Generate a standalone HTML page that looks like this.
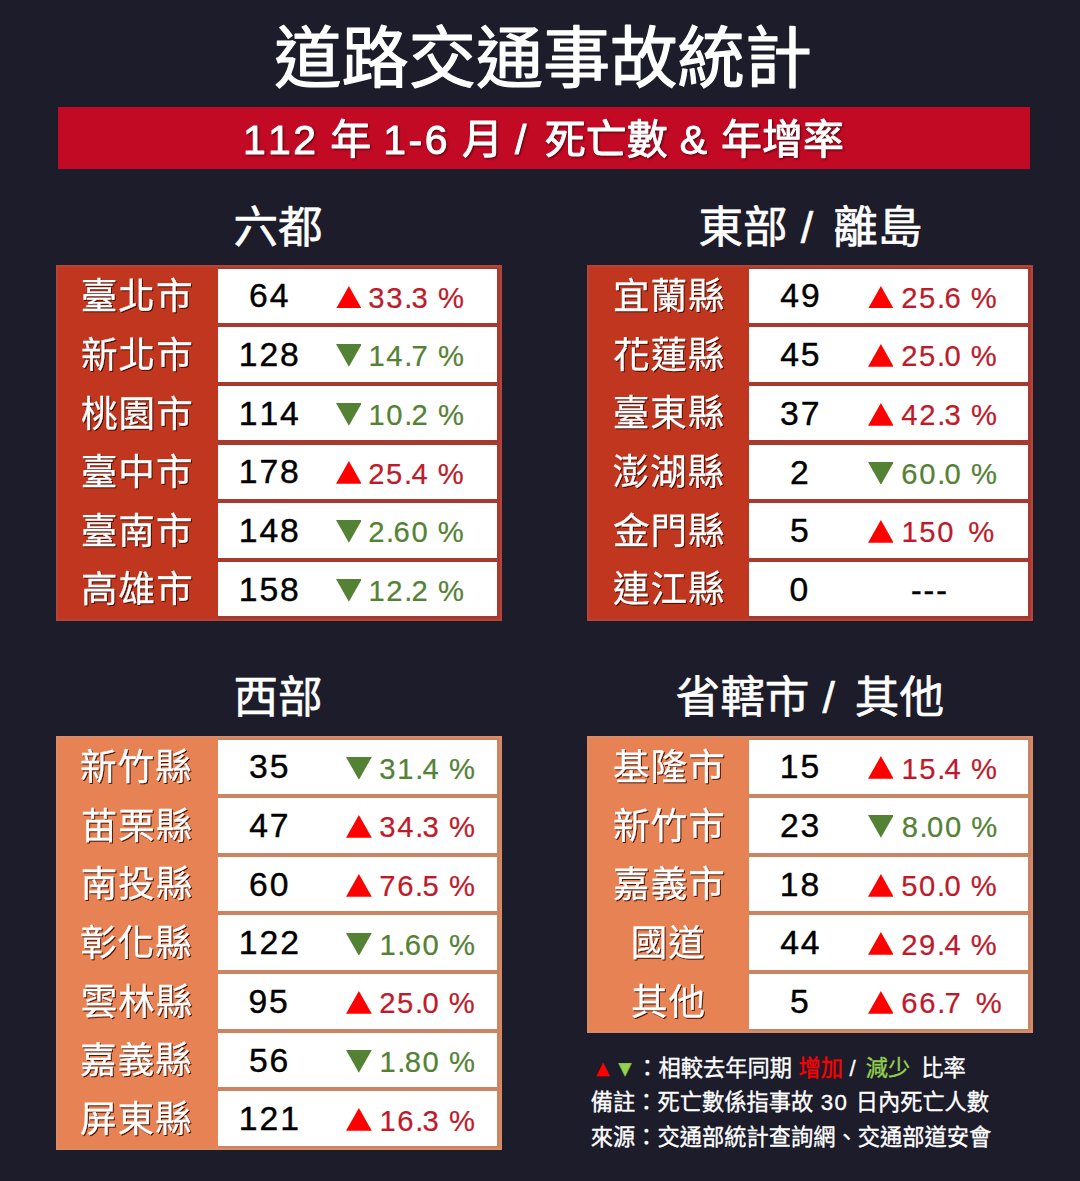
<!DOCTYPE html>
<html lang="zh-Hant"><head><meta charset="utf-8"><title>道路交通事故統計</title>
<style>
html,body{margin:0;padding:0;background:#1c1c2b;}
body{width:1080px;height:1181px;position:relative;overflow:hidden;font-family:"Liberation Sans","Noto Sans CJK TC",sans-serif;}
.page{position:absolute;left:0;top:0;width:1080px;height:1181px;background:#1c1c2b;overflow:hidden}
.t,.bar,.tb,.cell,.tri{position:absolute}
.tx{display:block;overflow:visible}
.tx text{font-family:"Liberation Sans","Noto Sans CJK TC",sans-serif;stroke-linejoin:round}
.cell{background:#fff}
</style></head><body>
<div class="page">
<div class="t " style="left:274.30px;top:22.00px;"><svg class="tx" width="537.94" height="68.21" viewBox="0 0 537.94 68.21"><text x="0.30 67.50 134.70 201.90 269.10 336.30 403.50 470.70" y="59.57" font-size="67.2" fill="#ffffff" stroke="#ffffff" stroke-width="1.2">道路交通事故統計</text></svg></div>
<div class="bar" style="left:57.6px;top:107px;width:972.4px;height:62.4px;background:#c30a25"></div>
<div class="t " style="left:243.60px;top:115.63px;"><svg class="tx" width="601.68" height="44.74" viewBox="0 0 601.68 44.74" style="filter:drop-shadow(1.5px 1.5px 1px rgba(40,0,0,.75))"><text x="-1.08 24.05 49.18 74 86.33 127 139.34 164.47 180.79 206 217.94 259 270.95 289 300.72 341.72 382.72 424 435.73 465 477.06 518.06 559.06" y="37.99" font-size="41" fill="#ffffff" stroke="#ffffff" stroke-width="0.98">112 年 1-6 月 / 死亡數 &amp; 年增率</text></svg></div>
<div class="t " style="left:231.85px;top:201.69px;"><svg class="tx" width="91.89" height="47.83" viewBox="0 0 91.89 47.83"><text x="1.46 46.06" y="40.84" font-size="44.6" fill="#ffffff" stroke="#ffffff" stroke-width="0.62">六都</text></svg></div>
<div class="t " style="left:696.84px;top:201.62px;"><svg class="tx" width="226.32" height="47.96" viewBox="0 0 226.32 47.96"><text x="1.50 46.10 91 103.77 124 136.15 180.75" y="40.97" font-size="44.6" fill="#ffffff" stroke="#ffffff" stroke-width="0.62">東部 / 離島</text></svg></div>
<div class="t " style="left:231.70px;top:672.18px;"><svg class="tx" width="92.20" height="47.65" viewBox="0 0 92.20 47.65"><text x="1.46 46.06" y="40.75" font-size="44.6" fill="#ffffff" stroke="#ffffff" stroke-width="0.62">西部</text></svg></div>
<div class="t " style="left:674.21px;top:672.02px;"><svg class="tx" width="271.59" height="47.96" viewBox="0 0 271.59 47.96"><text x="1.59 46.19 90.79 136 148.46 169 180.84 225.44" y="40.88" font-size="44.6" fill="#ffffff" stroke="#ffffff" stroke-width="0.62">省轄市 / 其他</text></svg></div>
<div class="tb" style="left:56.2px;top:264.8px;width:445.9px;height:355.86px;background:#c0361f"></div>
<div class="tb" style="left:217.70px;top:264.8px;width:284.40px;height:355.86px;background:#a63a30"></div>
<div class="tb" style="left:56.2px;top:264.8px;width:445.9px;height:355.86px;box-shadow:inset 0 0 0 2px #b3443a"></div>
<div class="cell" style="left:217.70px;top:268.60px;width:279.6px;height:54.4px"></div>
<div class="t " style="left:78.64px;top:275.14px;"><svg class="tx" width="115.52" height="40.72" viewBox="0 0 115.52 40.72" style="filter:drop-shadow(1.6px 1.6px 0.6px rgba(55,10,0,.9))"><text x="1.77 39.37 76.97" y="34.34" font-size="36.6" fill="#ffffff" stroke="#ffffff" stroke-width="0.29">臺北市</text></svg></div>
<div class="t " style="left:246.66px;top:279.35px;"><svg class="tx" width="46.38" height="31.69" viewBox="0 0 46.38 31.69"><text x="2.08 22.74" y="28.30" font-size="33.7" fill="#000000" stroke="#000000" stroke-width="0.4">64</text></svg></div>
<svg class="tri" style="left:335.50px;top:285.50px" width="25.8" height="22.8" viewBox="0 0 25.8 22.8"><polygon points="12.90,0 25.80,22.8 0,22.8" fill="#ff0000"/></svg>
<div class="t " style="left:366.26px;top:282.72px;"><svg class="tx" width="98.02" height="28.97" viewBox="0 0 98.02 28.97"><text x="2.34 20.24 38.13 45.55 62 72.01" y="25.26" font-size="29.2" fill="#c01a2a" stroke="#c01a2a" stroke-width="0.23">33.3 %</text></svg></div>
<div class="cell" style="left:217.70px;top:327.26px;width:279.6px;height:54.4px"></div>
<div class="t " style="left:78.51px;top:333.82px;"><svg class="tx" width="115.77" height="40.68" viewBox="0 0 115.77 40.68" style="filter:drop-shadow(1.6px 1.6px 0.6px rgba(55,10,0,.9))"><text x="2.02 39.62 77.22" y="34.23" font-size="36.6" fill="#ffffff" stroke="#ffffff" stroke-width="0.29">新北市</text></svg></div>
<div class="t " style="left:238.59px;top:338.01px;"><svg class="tx" width="64.28" height="31.69" viewBox="0 0 64.28 31.69"><text x="-0.18 20.48 41.14" y="28.30" font-size="33.7" fill="#000000" stroke="#000000" stroke-width="0.4">128</text></svg></div>
<svg class="tri" style="left:335.50px;top:344.36px" width="25.8" height="22.8" viewBox="0 0 25.8 22.8"><polygon points="0,0 25.8,0 12.90,22.8" fill="#548235"/></svg>
<div class="t " style="left:368.22px;top:341.38px;"><svg class="tx" width="96.07" height="28.97" viewBox="0 0 96.07 28.97"><text x="0.38 18.28 36.18 43.60 60 70.05" y="25.26" font-size="29.2" fill="#548235" stroke="#548235" stroke-width="0.23">14.7 %</text></svg></div>
<div class="cell" style="left:217.70px;top:385.92px;width:279.6px;height:54.4px"></div>
<div class="t " style="left:78.51px;top:392.50px;"><svg class="tx" width="115.77" height="40.65" viewBox="0 0 115.77 40.65" style="filter:drop-shadow(1.6px 1.6px 0.6px rgba(55,10,0,.9))"><text x="2.02 39.62 77.22" y="34.19" font-size="36.6" fill="#ffffff" stroke="#ffffff" stroke-width="0.29">桃園市</text></svg></div>
<div class="t " style="left:238.59px;top:396.83px;"><svg class="tx" width="64.78" height="31.39" viewBox="0 0 64.78 31.39"><text x="-0.18 20.48 41.14" y="28.16" font-size="33.7" fill="#000000" stroke="#000000" stroke-width="0.4">114</text></svg></div>
<svg class="tri" style="left:335.50px;top:403.02px" width="25.8" height="22.8" viewBox="0 0 25.8 22.8"><polygon points="0,0 25.8,0 12.90,22.8" fill="#548235"/></svg>
<div class="t " style="left:368.22px;top:400.04px;"><svg class="tx" width="96.07" height="28.97" viewBox="0 0 96.07 28.97"><text x="0.38 18.28 36.18 43.60 60 70.05" y="25.26" font-size="29.2" fill="#548235" stroke="#548235" stroke-width="0.23">10.2 %</text></svg></div>
<div class="cell" style="left:217.70px;top:444.58px;width:279.6px;height:54.4px"></div>
<div class="t " style="left:78.64px;top:451.08px;"><svg class="tx" width="115.52" height="40.79" viewBox="0 0 115.52 40.79" style="filter:drop-shadow(1.6px 1.6px 0.6px rgba(55,10,0,.9))"><text x="1.77 39.37 76.97" y="34.34" font-size="36.6" fill="#ffffff" stroke="#ffffff" stroke-width="0.29">臺中市</text></svg></div>
<div class="t " style="left:238.59px;top:455.33px;"><svg class="tx" width="64.28" height="31.69" viewBox="0 0 64.28 31.69"><text x="-0.18 20.48 41.14" y="28.30" font-size="33.7" fill="#000000" stroke="#000000" stroke-width="0.4">178</text></svg></div>
<svg class="tri" style="left:335.50px;top:461.48px" width="25.8" height="22.8" viewBox="0 0 25.8 22.8"><polygon points="12.90,0 25.80,22.8 0,22.8" fill="#ff0000"/></svg>
<div class="t " style="left:366.44px;top:458.70px;"><svg class="tx" width="97.85" height="28.97" viewBox="0 0 97.85 28.97"><text x="2.16 20.06 37.96 45.38 62 71.83" y="25.26" font-size="29.2" fill="#c01a2a" stroke="#c01a2a" stroke-width="0.23">25.4 %</text></svg></div>
<div class="cell" style="left:217.70px;top:503.24px;width:279.6px;height:54.4px"></div>
<div class="t " style="left:78.64px;top:509.78px;"><svg class="tx" width="115.52" height="40.72" viewBox="0 0 115.52 40.72" style="filter:drop-shadow(1.6px 1.6px 0.6px rgba(55,10,0,.9))"><text x="1.77 39.37 76.97" y="34.34" font-size="36.6" fill="#ffffff" stroke="#ffffff" stroke-width="0.29">臺南市</text></svg></div>
<div class="t " style="left:238.59px;top:513.99px;"><svg class="tx" width="64.28" height="31.69" viewBox="0 0 64.28 31.69"><text x="-0.18 20.48 41.14" y="28.30" font-size="33.7" fill="#000000" stroke="#000000" stroke-width="0.4">148</text></svg></div>
<svg class="tri" style="left:335.50px;top:520.34px" width="25.8" height="22.8" viewBox="0 0 25.8 22.8"><polygon points="0,0 25.8,0 12.90,22.8" fill="#548235"/></svg>
<div class="t " style="left:366.44px;top:517.36px;"><svg class="tx" width="97.85" height="28.97" viewBox="0 0 97.85 28.97"><text x="2.16 20.06 27.48 45.38 62 71.83" y="25.26" font-size="29.2" fill="#548235" stroke="#548235" stroke-width="0.23">2.60 %</text></svg></div>
<div class="cell" style="left:217.70px;top:561.90px;width:279.6px;height:54.4px"></div>
<div class="t " style="left:78.51px;top:568.46px;"><svg class="tx" width="115.77" height="40.68" viewBox="0 0 115.77 40.68" style="filter:drop-shadow(1.6px 1.6px 0.6px rgba(55,10,0,.9))"><text x="2.02 39.62 77.22" y="34.20" font-size="36.6" fill="#ffffff" stroke="#ffffff" stroke-width="0.29">高雄市</text></svg></div>
<div class="t " style="left:238.59px;top:572.65px;"><svg class="tx" width="64.28" height="31.69" viewBox="0 0 64.28 31.69"><text x="-0.18 20.48 41.14" y="28.30" font-size="33.7" fill="#000000" stroke="#000000" stroke-width="0.4">158</text></svg></div>
<svg class="tri" style="left:335.50px;top:579.00px" width="25.8" height="22.8" viewBox="0 0 25.8 22.8"><polygon points="0,0 25.8,0 12.90,22.8" fill="#548235"/></svg>
<div class="t " style="left:368.22px;top:576.02px;"><svg class="tx" width="96.07" height="28.97" viewBox="0 0 96.07 28.97"><text x="0.38 18.28 36.18 43.60 60 70.05" y="25.26" font-size="29.2" fill="#548235" stroke="#548235" stroke-width="0.23">12.2 %</text></svg></div>
<div class="tb" style="left:587.3px;top:264.8px;width:445.9px;height:355.86px;background:#c0361f"></div>
<div class="tb" style="left:748.80px;top:264.8px;width:284.40px;height:355.86px;background:#a63a30"></div>
<div class="tb" style="left:587.3px;top:264.8px;width:445.9px;height:355.86px;box-shadow:inset 0 0 0 2px #b3443a"></div>
<div class="cell" style="left:748.80px;top:268.60px;width:279.6px;height:54.4px"></div>
<div class="t " style="left:610.52px;top:275.14px;"><svg class="tx" width="115.96" height="40.72" viewBox="0 0 115.96 40.72" style="filter:drop-shadow(1.6px 1.6px 0.6px rgba(55,10,0,.9))"><text x="2.02 39.62 77.22" y="34.23" font-size="36.6" fill="#ffffff" stroke="#ffffff" stroke-width="0.29">宜蘭縣</text></svg></div>
<div class="t " style="left:776.52px;top:279.35px;"><svg class="tx" width="46.65" height="31.69" viewBox="0 0 46.65 31.69"><text x="3.22 23.88" y="28.30" font-size="33.7" fill="#000000" stroke="#000000" stroke-width="0.4">49</text></svg></div>
<svg class="tri" style="left:867.60px;top:285.50px" width="25.8" height="22.8" viewBox="0 0 25.8 22.8"><polygon points="12.90,0 25.80,22.8 0,22.8" fill="#ff0000"/></svg>
<div class="t " style="left:899.24px;top:282.72px;"><svg class="tx" width="97.85" height="28.97" viewBox="0 0 97.85 28.97"><text x="2.16 20.06 37.96 45.38 62 71.83" y="25.26" font-size="29.2" fill="#c01a2a" stroke="#c01a2a" stroke-width="0.23">25.6 %</text></svg></div>
<div class="cell" style="left:748.80px;top:327.26px;width:279.6px;height:54.4px"></div>
<div class="t " style="left:610.58px;top:333.80px;"><svg class="tx" width="115.85" height="40.72" viewBox="0 0 115.85 40.72" style="filter:drop-shadow(1.6px 1.6px 0.6px rgba(55,10,0,.9))"><text x="1.91 39.51 77.11" y="34.23" font-size="36.6" fill="#ffffff" stroke="#ffffff" stroke-width="0.29">花蓮縣</text></svg></div>
<div class="t " style="left:776.52px;top:338.08px;"><svg class="tx" width="46.72" height="31.56" viewBox="0 0 46.72 31.56"><text x="3.22 23.88" y="28.16" font-size="33.7" fill="#000000" stroke="#000000" stroke-width="0.4">45</text></svg></div>
<svg class="tri" style="left:867.60px;top:344.16px" width="25.8" height="22.8" viewBox="0 0 25.8 22.8"><polygon points="12.90,0 25.80,22.8 0,22.8" fill="#ff0000"/></svg>
<div class="t " style="left:899.24px;top:341.38px;"><svg class="tx" width="97.85" height="28.97" viewBox="0 0 97.85 28.97"><text x="2.16 20.06 37.96 45.38 62 71.83" y="25.26" font-size="29.2" fill="#c01a2a" stroke="#c01a2a" stroke-width="0.23">25.0 %</text></svg></div>
<div class="cell" style="left:748.80px;top:385.92px;width:279.6px;height:54.4px"></div>
<div class="t " style="left:610.65px;top:392.40px;"><svg class="tx" width="115.70" height="40.83" viewBox="0 0 115.70 40.83" style="filter:drop-shadow(1.6px 1.6px 0.6px rgba(55,10,0,.9))"><text x="1.77 39.37 76.97" y="34.34" font-size="36.6" fill="#ffffff" stroke="#ffffff" stroke-width="0.29">臺東縣</text></svg></div>
<div class="t " style="left:777.66px;top:396.67px;"><svg class="tx" width="45.44" height="31.69" viewBox="0 0 45.44 31.69"><text x="2.08 22.74" y="28.30" font-size="33.7" fill="#000000" stroke="#000000" stroke-width="0.4">37</text></svg></div>
<svg class="tri" style="left:867.60px;top:402.82px" width="25.8" height="22.8" viewBox="0 0 25.8 22.8"><polygon points="12.90,0 25.80,22.8 0,22.8" fill="#ff0000"/></svg>
<div class="t " style="left:898.07px;top:400.04px;"><svg class="tx" width="99.02" height="28.97" viewBox="0 0 99.02 28.97"><text x="3.33 21.23 39.13 46.54 63 73.00" y="25.26" font-size="29.2" fill="#c01a2a" stroke="#c01a2a" stroke-width="0.23">42.3 %</text></svg></div>
<div class="cell" style="left:748.80px;top:444.58px;width:279.6px;height:54.4px"></div>
<div class="t " style="left:610.78px;top:451.06px;"><svg class="tx" width="115.44" height="40.83" viewBox="0 0 115.44 40.83" style="filter:drop-shadow(1.6px 1.6px 0.6px rgba(55,10,0,.9))"><text x="1.51 39.11 76.71" y="34.34" font-size="36.6" fill="#ffffff" stroke="#ffffff" stroke-width="0.29">澎湖縣</text></svg></div>
<div class="t " style="left:788.19px;top:455.50px;"><svg class="tx" width="24.11" height="31.35" viewBox="0 0 24.11 31.35"><text x="1.88" y="28.30" font-size="33.7" fill="#000000" stroke="#000000" stroke-width="0.4">2</text></svg></div>
<svg class="tri" style="left:867.60px;top:461.68px" width="25.8" height="22.8" viewBox="0 0 25.8 22.8"><polygon points="0,0 25.8,0 12.90,22.8" fill="#548235"/></svg>
<div class="t " style="left:899.06px;top:458.70px;"><svg class="tx" width="98.02" height="28.97" viewBox="0 0 98.02 28.97"><text x="2.34 20.24 38.13 45.55 62 72.01" y="25.26" font-size="29.2" fill="#548235" stroke="#548235" stroke-width="0.23">60.0 %</text></svg></div>
<div class="cell" style="left:748.80px;top:503.24px;width:279.6px;height:54.4px"></div>
<div class="t " style="left:610.56px;top:509.72px;"><svg class="tx" width="115.88" height="40.83" viewBox="0 0 115.88 40.83" style="filter:drop-shadow(1.6px 1.6px 0.6px rgba(55,10,0,.9))"><text x="1.95 39.55 77.15" y="34.34" font-size="36.6" fill="#ffffff" stroke="#ffffff" stroke-width="0.29">金門縣</text></svg></div>
<div class="t " style="left:788.16px;top:514.15px;"><svg class="tx" width="24.75" height="31.39" viewBox="0 0 24.75 31.39"><text x="1.91" y="27.99" font-size="33.7" fill="#000000" stroke="#000000" stroke-width="0.4">5</text></svg></div>
<svg class="tri" style="left:867.60px;top:520.14px" width="25.8" height="22.8" viewBox="0 0 25.8 22.8"><polygon points="12.90,0 25.80,22.8 0,22.8" fill="#ff0000"/></svg>
<div class="t " style="left:901.02px;top:517.36px;"><svg class="tx" width="93.32" height="28.97" viewBox="0 0 93.32 28.97"><text x="0.38 18.28 36.18 55 67.31" y="25.26" font-size="29.2" fill="#c01a2a" stroke="#c01a2a" stroke-width="0.23">150 %</text></svg></div>
<div class="cell" style="left:748.80px;top:561.90px;width:279.6px;height:54.4px"></div>
<div class="t " style="left:610.56px;top:568.44px;"><svg class="tx" width="115.88" height="40.72" viewBox="0 0 115.88 40.72" style="filter:drop-shadow(1.6px 1.6px 0.6px rgba(55,10,0,.9))"><text x="1.95 39.55 77.15" y="34.23" font-size="36.6" fill="#ffffff" stroke="#ffffff" stroke-width="0.29">連江縣</text></svg></div>
<div class="t " style="left:787.45px;top:572.65px;"><svg class="tx" width="25.89" height="31.69" viewBox="0 0 25.89 31.69"><text x="2.62" y="28.30" font-size="33.7" fill="#000000" stroke="#000000" stroke-width="0.4">0</text></svg></div>
<div class="t " style="left:908.61px;top:586.40px;"><svg class="tx" width="41.98" height="10.59" viewBox="0 0 41.98 10.59"><text x="1.89 14.62 27.36" y="14.98" font-size="32" fill="#000000" stroke="#000000" stroke-width="0.45">---</text></svg></div>
<div class="tb" style="left:56.2px;top:735.7px;width:445.9px;height:414.52px;background:#e68253"></div>
<div class="tb" style="left:217.70px;top:735.7px;width:284.40px;height:414.52px;background:#c98562"></div>
<div class="tb" style="left:56.2px;top:735.7px;width:445.9px;height:414.52px;box-shadow:inset 0 0 0 2px #d98a66"></div>
<div class="cell" style="left:217.70px;top:739.50px;width:279.6px;height:54.4px"></div>
<div class="t " style="left:78.42px;top:746.04px;"><svg class="tx" width="115.96" height="40.72" viewBox="0 0 115.96 40.72" style="filter:drop-shadow(1.6px 1.6px 0.6px rgba(55,10,0,.9))"><text x="2.02 39.62 77.22" y="34.23" font-size="36.6" fill="#ffffff" stroke="#ffffff" stroke-width="0.29">新竹縣</text></svg></div>
<div class="t " style="left:246.66px;top:750.25px;"><svg class="tx" width="45.58" height="31.69" viewBox="0 0 45.58 31.69"><text x="2.08 22.74" y="28.30" font-size="33.7" fill="#000000" stroke="#000000" stroke-width="0.4">35</text></svg></div>
<svg class="tri" style="left:346.00px;top:756.60px" width="25.8" height="22.8" viewBox="0 0 25.8 22.8"><polygon points="0,0 25.8,0 12.90,22.8" fill="#548235"/></svg>
<div class="t " style="left:376.76px;top:753.62px;"><svg class="tx" width="98.02" height="28.97" viewBox="0 0 98.02 28.97"><text x="2.34 20.24 38.13 45.55 62 72.01" y="25.26" font-size="29.2" fill="#548235" stroke="#548235" stroke-width="0.23">31.4 %</text></svg></div>
<div class="cell" style="left:217.70px;top:798.16px;width:279.6px;height:54.4px"></div>
<div class="t " style="left:78.59px;top:804.72px;"><svg class="tx" width="115.63" height="40.68" viewBox="0 0 115.63 40.68" style="filter:drop-shadow(1.6px 1.6px 0.6px rgba(55,10,0,.9))"><text x="1.69 39.29 76.89" y="34.20" font-size="36.6" fill="#ffffff" stroke="#ffffff" stroke-width="0.29">苗栗縣</text></svg></div>
<div class="t " style="left:245.52px;top:809.07px;"><svg class="tx" width="46.59" height="31.39" viewBox="0 0 46.59 31.39"><text x="3.22 23.88" y="28.16" font-size="33.7" fill="#000000" stroke="#000000" stroke-width="0.4">47</text></svg></div>
<svg class="tri" style="left:346.00px;top:815.06px" width="25.8" height="22.8" viewBox="0 0 25.8 22.8"><polygon points="12.90,0 25.80,22.8 0,22.8" fill="#ff0000"/></svg>
<div class="t " style="left:376.76px;top:812.28px;"><svg class="tx" width="98.02" height="28.97" viewBox="0 0 98.02 28.97"><text x="2.34 20.24 38.13 45.55 62 72.01" y="25.26" font-size="29.2" fill="#c01a2a" stroke="#c01a2a" stroke-width="0.23">34.3 %</text></svg></div>
<div class="cell" style="left:217.70px;top:856.82px;width:279.6px;height:54.4px"></div>
<div class="t " style="left:78.57px;top:863.36px;"><svg class="tx" width="115.66" height="40.72" viewBox="0 0 115.66 40.72" style="filter:drop-shadow(1.6px 1.6px 0.6px rgba(55,10,0,.9))"><text x="1.73 39.33 76.93" y="34.23" font-size="36.6" fill="#ffffff" stroke="#ffffff" stroke-width="0.29">南投縣</text></svg></div>
<div class="t " style="left:246.66px;top:867.57px;"><svg class="tx" width="46.01" height="31.69" viewBox="0 0 46.01 31.69"><text x="2.08 22.74" y="28.30" font-size="33.7" fill="#000000" stroke="#000000" stroke-width="0.4">60</text></svg></div>
<svg class="tri" style="left:346.00px;top:873.72px" width="25.8" height="22.8" viewBox="0 0 25.8 22.8"><polygon points="12.90,0 25.80,22.8 0,22.8" fill="#ff0000"/></svg>
<div class="t " style="left:376.79px;top:870.94px;"><svg class="tx" width="97.99" height="28.97" viewBox="0 0 97.99 28.97"><text x="2.31 20.21 38.11 45.52 62 71.98" y="25.26" font-size="29.2" fill="#c01a2a" stroke="#c01a2a" stroke-width="0.23">76.5 %</text></svg></div>
<div class="cell" style="left:217.70px;top:915.48px;width:279.6px;height:54.4px"></div>
<div class="t " style="left:78.42px;top:921.99px;"><svg class="tx" width="115.96" height="40.79" viewBox="0 0 115.96 40.79" style="filter:drop-shadow(1.6px 1.6px 0.6px rgba(55,10,0,.9))"><text x="2.02 39.62 77.22" y="34.30" font-size="36.6" fill="#ffffff" stroke="#ffffff" stroke-width="0.29">彰化縣</text></svg></div>
<div class="t " style="left:238.59px;top:926.40px;"><svg class="tx" width="63.37" height="31.35" viewBox="0 0 63.37 31.35"><text x="-0.18 20.48 41.14" y="28.30" font-size="33.7" fill="#000000" stroke="#000000" stroke-width="0.4">122</text></svg></div>
<svg class="tri" style="left:346.00px;top:932.58px" width="25.8" height="22.8" viewBox="0 0 25.8 22.8"><polygon points="0,0 25.8,0 12.90,22.8" fill="#548235"/></svg>
<div class="t " style="left:378.72px;top:929.60px;"><svg class="tx" width="96.07" height="28.97" viewBox="0 0 96.07 28.97"><text x="0.38 18.28 25.70 43.60 60 70.05" y="25.26" font-size="29.2" fill="#548235" stroke="#548235" stroke-width="0.23">1.60 %</text></svg></div>
<div class="cell" style="left:217.70px;top:974.14px;width:279.6px;height:54.4px"></div>
<div class="t " style="left:78.57px;top:980.72px;"><svg class="tx" width="115.66" height="40.65" viewBox="0 0 115.66 40.65" style="filter:drop-shadow(1.6px 1.6px 0.6px rgba(55,10,0,.9))"><text x="1.73 39.33 76.93" y="34.16" font-size="36.6" fill="#ffffff" stroke="#ffffff" stroke-width="0.29">雲林縣</text></svg></div>
<div class="t " style="left:246.29px;top:984.89px;"><svg class="tx" width="45.95" height="31.69" viewBox="0 0 45.95 31.69"><text x="2.45 23.11" y="28.30" font-size="33.7" fill="#000000" stroke="#000000" stroke-width="0.4">95</text></svg></div>
<svg class="tri" style="left:346.00px;top:991.04px" width="25.8" height="22.8" viewBox="0 0 25.8 22.8"><polygon points="12.90,0 25.80,22.8 0,22.8" fill="#ff0000"/></svg>
<div class="t " style="left:376.94px;top:988.26px;"><svg class="tx" width="97.85" height="28.97" viewBox="0 0 97.85 28.97"><text x="2.16 20.06 37.96 45.38 62 71.83" y="25.26" font-size="29.2" fill="#c01a2a" stroke="#c01a2a" stroke-width="0.23">25.0 %</text></svg></div>
<div class="cell" style="left:217.70px;top:1032.80px;width:279.6px;height:54.4px"></div>
<div class="t " style="left:78.38px;top:1039.23px;"><svg class="tx" width="116.03" height="40.94" viewBox="0 0 116.03 40.94" style="filter:drop-shadow(1.6px 1.6px 0.6px rgba(55,10,0,.9))"><text x="2.10 39.70 77.30" y="34.45" font-size="36.6" fill="#ffffff" stroke="#ffffff" stroke-width="0.29">嘉義縣</text></svg></div>
<div class="t " style="left:246.83px;top:1043.55px;"><svg class="tx" width="45.68" height="31.69" viewBox="0 0 45.68 31.69"><text x="1.91 22.57" y="28.30" font-size="33.7" fill="#000000" stroke="#000000" stroke-width="0.4">56</text></svg></div>
<svg class="tri" style="left:346.00px;top:1049.90px" width="25.8" height="22.8" viewBox="0 0 25.8 22.8"><polygon points="0,0 25.8,0 12.90,22.8" fill="#548235"/></svg>
<div class="t " style="left:378.72px;top:1046.92px;"><svg class="tx" width="96.07" height="28.97" viewBox="0 0 96.07 28.97"><text x="0.38 18.28 25.70 43.60 60 70.05" y="25.26" font-size="29.2" fill="#548235" stroke="#548235" stroke-width="0.23">1.80 %</text></svg></div>
<div class="cell" style="left:217.70px;top:1091.46px;width:279.6px;height:54.4px"></div>
<div class="t " style="left:78.42px;top:1098.02px;"><svg class="tx" width="115.96" height="40.68" viewBox="0 0 115.96 40.68" style="filter:drop-shadow(1.6px 1.6px 0.6px rgba(55,10,0,.9))"><text x="2.02 39.62 77.22" y="34.19" font-size="36.6" fill="#ffffff" stroke="#ffffff" stroke-width="0.29">屏東縣</text></svg></div>
<div class="t " style="left:238.59px;top:1102.38px;"><svg class="tx" width="62.59" height="31.35" viewBox="0 0 62.59 31.35"><text x="-0.18 20.48 41.14" y="28.30" font-size="33.7" fill="#000000" stroke="#000000" stroke-width="0.4">121</text></svg></div>
<svg class="tri" style="left:346.00px;top:1108.36px" width="25.8" height="22.8" viewBox="0 0 25.8 22.8"><polygon points="12.90,0 25.80,22.8 0,22.8" fill="#ff0000"/></svg>
<div class="t " style="left:378.72px;top:1105.58px;"><svg class="tx" width="96.07" height="28.97" viewBox="0 0 96.07 28.97"><text x="0.38 18.28 36.18 43.60 60 70.05" y="25.26" font-size="29.2" fill="#c01a2a" stroke="#c01a2a" stroke-width="0.23">16.3 %</text></svg></div>
<div class="tb" style="left:587.3px;top:735.7px;width:445.9px;height:297.20px;background:#e68253"></div>
<div class="tb" style="left:748.80px;top:735.7px;width:284.40px;height:297.20px;background:#c98562"></div>
<div class="tb" style="left:587.3px;top:735.7px;width:445.9px;height:297.20px;box-shadow:inset 0 0 0 2px #d98a66"></div>
<div class="cell" style="left:748.80px;top:739.50px;width:279.6px;height:54.4px"></div>
<div class="t " style="left:610.61px;top:746.08px;"><svg class="tx" width="115.77" height="40.65" viewBox="0 0 115.77 40.65" style="filter:drop-shadow(1.6px 1.6px 0.6px rgba(55,10,0,.9))"><text x="2.02 39.62 77.22" y="34.20" font-size="36.6" fill="#ffffff" stroke="#ffffff" stroke-width="0.29">基隆市</text></svg></div>
<div class="t " style="left:779.92px;top:750.41px;"><svg class="tx" width="43.32" height="31.39" viewBox="0 0 43.32 31.39"><text x="-0.18 20.48" y="27.99" font-size="33.7" fill="#000000" stroke="#000000" stroke-width="0.4">15</text></svg></div>
<svg class="tri" style="left:867.60px;top:756.40px" width="25.8" height="22.8" viewBox="0 0 25.8 22.8"><polygon points="12.90,0 25.80,22.8 0,22.8" fill="#ff0000"/></svg>
<div class="t " style="left:901.02px;top:753.62px;"><svg class="tx" width="96.07" height="28.97" viewBox="0 0 96.07 28.97"><text x="0.38 18.28 36.18 43.60 60 70.05" y="25.26" font-size="29.2" fill="#c01a2a" stroke="#c01a2a" stroke-width="0.23">15.4 %</text></svg></div>
<div class="cell" style="left:748.80px;top:798.16px;width:279.6px;height:54.4px"></div>
<div class="t " style="left:610.61px;top:804.72px;"><svg class="tx" width="115.77" height="40.68" viewBox="0 0 115.77 40.68" style="filter:drop-shadow(1.6px 1.6px 0.6px rgba(55,10,0,.9))"><text x="2.02 39.62 77.22" y="34.23" font-size="36.6" fill="#ffffff" stroke="#ffffff" stroke-width="0.29">新竹市</text></svg></div>
<div class="t " style="left:777.87px;top:808.91px;"><svg class="tx" width="44.77" height="31.69" viewBox="0 0 44.77 31.69"><text x="1.88 22.53" y="28.30" font-size="33.7" fill="#000000" stroke="#000000" stroke-width="0.4">23</text></svg></div>
<svg class="tri" style="left:867.60px;top:815.26px" width="25.8" height="22.8" viewBox="0 0 25.8 22.8"><polygon points="0,0 25.8,0 12.90,22.8" fill="#548235"/></svg>
<div class="t " style="left:898.71px;top:812.28px;"><svg class="tx" width="98.37" height="28.97" viewBox="0 0 98.37 28.97"><text x="2.69 20.59 28.00 45.90 62 72.36" y="25.26" font-size="29.2" fill="#548235" stroke="#548235" stroke-width="0.23">8.00 %</text></svg></div>
<div class="cell" style="left:748.80px;top:856.82px;width:279.6px;height:54.4px"></div>
<div class="t " style="left:610.58px;top:863.28px;"><svg class="tx" width="115.85" height="40.87" viewBox="0 0 115.85 40.87" style="filter:drop-shadow(1.6px 1.6px 0.6px rgba(55,10,0,.9))"><text x="2.10 39.70 77.30" y="34.45" font-size="36.6" fill="#ffffff" stroke="#ffffff" stroke-width="0.29">嘉義市</text></svg></div>
<div class="t " style="left:779.92px;top:867.57px;"><svg class="tx" width="43.62" height="31.69" viewBox="0 0 43.62 31.69"><text x="-0.18 20.48" y="28.30" font-size="33.7" fill="#000000" stroke="#000000" stroke-width="0.4">18</text></svg></div>
<svg class="tri" style="left:867.60px;top:873.72px" width="25.8" height="22.8" viewBox="0 0 25.8 22.8"><polygon points="12.90,0 25.80,22.8 0,22.8" fill="#ff0000"/></svg>
<div class="t " style="left:899.21px;top:870.94px;"><svg class="tx" width="97.88" height="28.97" viewBox="0 0 97.88 28.97"><text x="2.19 20.09 37.99 45.41 62 71.86" y="25.26" font-size="29.2" fill="#c01a2a" stroke="#c01a2a" stroke-width="0.23">50.0 %</text></svg></div>
<div class="cell" style="left:748.80px;top:915.48px;width:279.6px;height:54.4px"></div>
<div class="t " style="left:630.09px;top:922.39px;"><svg class="tx" width="76.82" height="39.99" viewBox="0 0 76.82 39.99" style="filter:drop-shadow(1.6px 1.6px 0.6px rgba(55,10,0,.9))"><text x="0.63 38.23" y="34.05" font-size="36.6" fill="#ffffff" stroke="#ffffff" stroke-width="0.29">國道</text></svg></div>
<div class="t " style="left:776.52px;top:926.39px;"><svg class="tx" width="47.53" height="31.39" viewBox="0 0 47.53 31.39"><text x="3.22 23.88" y="28.16" font-size="33.7" fill="#000000" stroke="#000000" stroke-width="0.4">44</text></svg></div>
<svg class="tri" style="left:867.60px;top:932.38px" width="25.8" height="22.8" viewBox="0 0 25.8 22.8"><polygon points="12.90,0 25.80,22.8 0,22.8" fill="#ff0000"/></svg>
<div class="t " style="left:899.24px;top:929.60px;"><svg class="tx" width="97.85" height="28.97" viewBox="0 0 97.85 28.97"><text x="2.16 20.06 37.96 45.38 62 71.83" y="25.26" font-size="29.2" fill="#c01a2a" stroke="#c01a2a" stroke-width="0.23">29.4 %</text></svg></div>
<div class="cell" style="left:748.80px;top:974.14px;width:279.6px;height:54.4px"></div>
<div class="t " style="left:629.45px;top:980.70px;"><svg class="tx" width="78.10" height="40.68" viewBox="0 0 78.10 40.68" style="filter:drop-shadow(1.6px 1.6px 0.6px rgba(55,10,0,.9))"><text x="1.91 39.51" y="34.27" font-size="36.6" fill="#ffffff" stroke="#ffffff" stroke-width="0.29">其他</text></svg></div>
<div class="t " style="left:788.16px;top:985.05px;"><svg class="tx" width="24.75" height="31.39" viewBox="0 0 24.75 31.39"><text x="1.91" y="27.99" font-size="33.7" fill="#000000" stroke="#000000" stroke-width="0.4">5</text></svg></div>
<svg class="tri" style="left:867.60px;top:991.04px" width="25.8" height="22.8" viewBox="0 0 25.8 22.8"><polygon points="12.90,0 25.80,22.8 0,22.8" fill="#ff0000"/></svg>
<div class="t " style="left:899.06px;top:988.26px;"><svg class="tx" width="102.70" height="28.97" viewBox="0 0 102.70 28.97"><text x="2.34 20.24 38.13 45.55 64 76.68" y="25.26" font-size="29.2" fill="#c01a2a" stroke="#c01a2a" stroke-width="0.23">66.7 %</text></svg></div>
<div class="t " style="left:589.40px;top:1053.49px;"><svg class="tx" width="379.57" height="28.11" viewBox="0 0 379.57 28.11"><text y="22.51" font-size="22.25" fill="#ffffff" stroke="#ffffff" stroke-width="0.36"><tspan x="2.80" fill="#ff0000" stroke="#ff0000">▲</tspan><tspan x="25.05" fill="#92d050" stroke="#92d050">▼</tspan><tspan x="47.30 69.55 91.80 114.05 136.30 158.55 180.80 203">：相較去年同期 </tspan><tspan x="209.57 231.82" fill="#ff0000" stroke="#ff0000">增加</tspan><tspan x="254 260.59 270"> / </tspan><tspan x="276.74 298.99" fill="#92d050" stroke="#92d050">減少</tspan><tspan x="321 332.37 354.62"> 比率</tspan></text></svg></div>
<div class="t " style="left:587.70px;top:1087.93px;"><svg class="tx" width="403.98" height="27.96" viewBox="0 0 403.98 27.96"><text x="2.78 25.03 47.28 69.53 91.78 114.03 136.28 158.53 180.78 203.03 225 232.84 246.48 260 267.68 289.93 312.18 334.43 356.68 378.93" y="22.47" font-size="22.25" fill="#ffffff" stroke="#ffffff" stroke-width="0.36">備註：死亡數係指事故 30 日內死亡人數</text></svg></div>
<div class="t " style="left:587.70px;top:1122.29px;"><svg class="tx" width="405.96" height="28.05" viewBox="0 0 405.96 28.05"><text x="2.66 24.91 47.16 69.41 91.66 113.91 136.16 158.41 180.66 202.91 225.16 247.41 269.66 291.91 314.16 336.41 358.66 380.91" y="22.51" font-size="22.25" fill="#ffffff" stroke="#ffffff" stroke-width="0.36">來源：交通部統計查詢網、交通部道安會</text></svg></div>
</div>
</body></html>
